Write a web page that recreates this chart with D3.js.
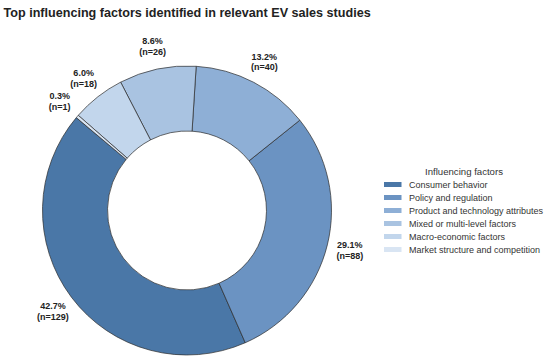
<!DOCTYPE html>
<html>
<head>
<meta charset="utf-8">
<script src="https://cdn.jsdelivr.net/npm/d3@7/dist/d3.min.js"></script>
<style>
  body { margin: 0; background: #fff; }
  svg { display: block; font-family: "Liberation Sans", Arial, sans-serif; }
</style>
</head>
<body>
<svg id="chart" width="550" height="363"></svg>
<script>
// data
var factors = ["Consumer behavior", "Policy and regulation", "Product and technology attributes",
               "Mixed or multi-level factors", "Macro-economic factors", "Market structure and competition"];
var counts = [129, 88, 40, 26, 18, 1];
var colors = ["#4a77a7", "#6b93c2", "#8eafd6", "#a9c3e1", "#c2d6ec", "#d9e5f3"];

var svg = d3.select("#chart");
var cx = 187, cy = 210.5, R = 144.5, r0 = R * 0.55;

var total = d3.sum(counts);
var fmt = d3.format(".1f");

svg.append("text")
    .attr("x", 3.5)
    .attr("y", 17)
    .attr("font-size", 12.6)
    .attr("font-weight", "bold")
    .attr("fill", "#222")
    .text("Top influencing factors identified in relevant EV sales studies");

// counter-clockwise from 140deg (math angle), like the reference
var a0 = (90 - 140) * Math.PI / 180;
var pie = d3.pie().sort(null).value(function(d) { return d; })
    .startAngle(a0).endAngle(a0 - 2 * Math.PI);

var arcs = pie(counts);
var arc = d3.arc().innerRadius(r0).outerRadius(R);
var labelArc = d3.arc().innerRadius(R * 1.16).outerRadius(R * 1.16);

var g = svg.append("g").attr("transform", "translate(" + cx + "," + cy + ")");

g.selectAll("path")
    .data(arcs)
    .enter().append("path")
    .attr("d", arc)
    .attr("fill", function(d, i) { return colors[i]; })
    .attr("stroke", "#2b2b2b")
    .attr("stroke-width", 0.7);

var lab = g.selectAll("text.lab")
    .data(arcs)
    .enter().append("text")
    .attr("class", "lab")
    .attr("text-anchor", "middle")
    .attr("font-size", 9)
    .attr("font-weight", "bold")
    .attr("fill", "#222")
    .attr("transform", function(d) { return "translate(" + labelArc.centroid(d) + ")"; });

lab.append("tspan")
    .attr("x", 0)
    .attr("dy", "-0.25em")
    .text(function(d) { return fmt(d.value / total * 100) + "%"; });
lab.append("tspan")
    .attr("x", 0)
    .attr("dy", "1.2em")
    .text(function(d) { return "(n=" + d.value + ")"; });

// legend
var legend = svg.append("g").attr("transform", "translate(384,0)");
legend.append("text")
    .attr("x", 80)
    .attr("y", 175)
    .attr("text-anchor", "middle")
    .attr("font-size", 9.6)
    .attr("fill", "#333")
    .text("Influencing factors");

var items = legend.selectAll("g.item")
    .data(factors)
    .enter().append("g")
    .attr("class", "item")
    .attr("transform", function(d, i) { return "translate(0," + (184.5 + i * 13) + ")"; });

items.append("rect")
    .attr("x", 0)
    .attr("y", -2.5)
    .attr("width", 17.5)
    .attr("height", 5)
    .attr("fill", function(d, i) { return colors[i]; });

items.append("text")
    .attr("x", 25)
    .attr("y", 0)
    .attr("dy", "0.35em")
    .attr("font-size", 9)
    .attr("fill", "#333")
    .text(function(d) { return d; });
</script>
</body>
</html>
